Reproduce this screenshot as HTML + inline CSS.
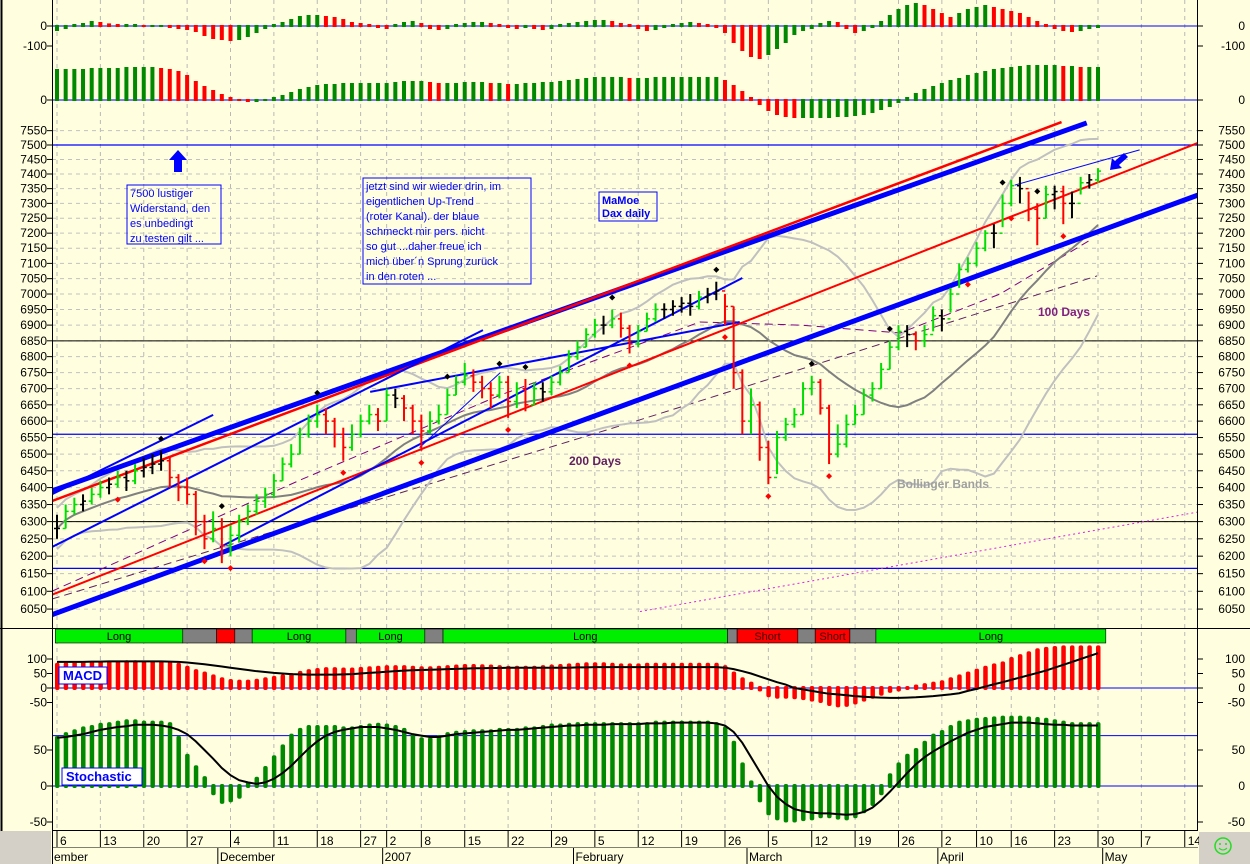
<!DOCTYPE html>
<html><head><meta charset="utf-8"><style>
html,body{margin:0;padding:0;background:#ffffe0;}
svg{display:block;font-family:"Liberation Sans",Arial,sans-serif;}
</style></head><body>
<svg id="chart" width="1250" height="864" viewBox="0 0 1250 864" xmlns="http://www.w3.org/2000/svg">
<rect x="0" y="0" width="1250" height="864" fill="#ffffe0"/>
<g id="grid"></g>
<g id="panelA"></g>
<g id="panelB"></g>
<defs><clipPath id="pc"><rect x="52" y="112" width="1146" height="516"/></clipPath></defs>
<g id="price" clip-path="url(#pc)"></g>
<g id="signal"></g>
<g id="macd"></g>
<g id="stoch"></g>
<g id="axes"></g>
<g id="notes">
  <rect x="127" y="185" width="94" height="59" fill="none" stroke="#0000ff"/>
  <text x="130" y="197" font-size="11" fill="#0000ff"><tspan x="130">7500 lustiger</tspan><tspan x="130" dy="15">Widerstand, den</tspan><tspan x="130" dy="15">es unbedingt</tspan><tspan x="130" dy="15">zu testen gilt ...</tspan></text>
  <rect x="363" y="178" width="168" height="106" fill="none" stroke="#0000ff"/>
  <text x="366" y="190" font-size="11" fill="#0000ff"><tspan x="366">jetzt sind wir wieder drin, im</tspan><tspan x="366" dy="15">eigentlichen Up-Trend</tspan><tspan x="366" dy="15">(roter Kanal). der blaue</tspan><tspan x="366" dy="15">schmeckt mir pers. nicht</tspan><tspan x="366" dy="15">so gut ...daher freue ich</tspan><tspan x="366" dy="15">mich über´n Sprung zurück</tspan><tspan x="366" dy="15">in den roten ...</tspan></text>
  <rect x="599" y="192" width="58" height="29" fill="none" stroke="#0000ff"/>
  <text x="602" y="204" font-size="11" font-weight="bold" fill="#0000ff"><tspan x="602">MaMoe</tspan><tspan x="602" dy="13">Dax daily</tspan></text>
  <polygon points="178,150 187,160 182,160 182,172 174,172 174,160 169,160" fill="#0000ff"/>
  <polygon points="1110,170 1112,158 1115,161 1124,153 1128,157 1119,165 1122,168" fill="#0000ff"/>
  <text x="569" y="465" font-size="12" font-weight="bold" fill="#602060">200 Days</text>
  <text x="1038" y="316" font-size="12" font-weight="bold" fill="#802080">100 Days</text>
  <text x="897" y="488" font-size="12" font-weight="bold" fill="#a0a0a0">Bollinger Bands</text>
  <rect x="59" y="667" width="48" height="17" fill="#fff" stroke="#0000ff"/>
  <text x="63" y="680" font-size="13" font-weight="bold" fill="#0000ff">MACD</text>
  <rect x="62" y="768" width="80" height="17" fill="#fff" stroke="#0000ff"/>
  <text x="66" y="781" font-size="13" font-weight="bold" fill="#0000ff">Stochastic</text>
  <rect x="1199" y="832" width="51" height="32" fill="#d4d0c8"/>
  <circle cx="1223" cy="846" r="8" fill="none" stroke="#22dd22" stroke-width="1.5"/>
  <circle cx="1220" cy="844" r="1" fill="#22dd22"/>
  <circle cx="1226" cy="844" r="1" fill="#22dd22"/>
  <path d="M1219 848 Q1223 852 1227 848" fill="none" stroke="#22dd22"/>
  <rect x="0" y="831" width="51" height="33" fill="#d4d0c8"/>
</g>
</svg>
<script>
const closes=[6280,6330,6350,6360,6380,6400,6410,6430,6420,6450,6460,6470,6480,6430,6400,6380,6300,6250,6280,6230,6260,6300,6330,6360,6380,6420,6470,6500,6560,6600,6620,6600,6560,6520,6560,6600,6620,6600,6680,6670,6640,6600,6570,6600,6620,6680,6720,6740,6720,6700,6680,6720,6660,6700,6650,6700,6690,6720,6750,6800,6830,6870,6900,6900,6920,6890,6840,6880,6920,6950,6950,6960,6970,6960,6990,7000,7010,6960,6750,6600,6650,6520,6430,6550,6590,6620,6700,6720,6640,6500,6530,6590,6620,6680,6700,6760,6830,6880,6870,6850,6870,6930,6920,7000,7080,7100,7150,7200,7200,7300,7360,7350,7280,7250,7330,7340,7300,7300,7370,7380,7410];
const highs=[6320,6350,6370,6380,6400,6420,6430,6450,6450,6470,6490,6500,6510,6490,6440,6430,6390,6320,6330,6310,6290,6320,6350,6380,6400,6440,6490,6530,6580,6620,6650,6640,6610,6580,6590,6620,6650,6640,6700,6700,6680,6650,6620,6630,6650,6700,6740,6780,6760,6740,6720,6740,6740,6720,6730,6720,6720,6740,6770,6820,6850,6890,6920,6930,6950,6940,6900,6900,6940,6970,6970,6980,6990,7000,7010,7020,7040,7000,6960,6760,6700,6660,6540,6570,6610,6640,6720,6740,6730,6650,6590,6620,6650,6700,6720,6780,6850,6900,6900,6880,6900,6960,6950,7020,7100,7120,7170,7210,7230,7330,7380,7390,7340,7300,7360,7360,7360,7340,7390,7400,7420];
const lows=[6250,6280,6320,6330,6350,6370,6380,6400,6390,6410,6430,6440,6450,6400,6360,6350,6260,6220,6240,6180,6200,6240,6290,6320,6340,6370,6420,6460,6500,6550,6580,6560,6520,6480,6510,6550,6590,6570,6600,6640,6600,6560,6510,6560,6590,6620,6680,6710,6690,6670,6640,6670,6610,6640,6630,6650,6660,6680,6710,6750,6790,6830,6860,6870,6890,6860,6810,6830,6880,6910,6920,6930,6940,6930,6950,6970,6980,6900,6700,6560,6560,6480,6410,6440,6540,6580,6620,6680,6620,6470,6490,6520,6590,6620,6660,6700,6760,6820,6830,6820,6830,6880,6880,6940,7020,7070,7090,7140,7150,7220,7290,7300,7240,7160,7250,7280,7230,7250,7330,7350,7370];
const oscA=[-20,-10,5,10,20,15,8,5,5,5,0,0,0,-5,-10,-15,-25,-45,-60,-65,-70,-65,-50,-30,-10,5,15,30,45,50,50,45,40,30,15,10,5,-5,-10,5,15,20,10,-10,-15,-10,5,10,15,15,10,5,-5,-10,-5,-10,-15,-10,5,10,15,20,25,25,20,10,5,-10,-20,-15,-5,5,10,15,10,5,-5,-30,-80,-120,-150,-160,-140,-110,-80,-40,-20,-10,10,20,15,-10,-30,-20,-5,20,50,80,100,110,100,80,60,40,60,80,90,100,90,80,70,60,40,20,5,-10,-20,-25,-20,-10,-5];
const oscB=[150,150,150,150,155,155,155,155,160,160,160,160,155,150,140,120,90,65,45,25,10,0,-5,-5,0,10,20,35,50,60,70,75,75,80,80,80,80,80,80,85,90,90,90,85,80,80,80,85,85,85,80,80,75,75,80,80,85,85,90,95,100,105,110,110,110,110,105,105,105,110,110,110,110,110,110,110,110,95,70,40,10,-20,-50,-70,-80,-85,-85,-85,-85,-85,-80,-80,-75,-70,-60,-45,-30,-10,10,30,50,65,80,95,105,120,130,140,150,155,160,165,170,170,170,170,165,165,160,160,160];
const macdHist=[80,82,84,85,86,87,88,88,89,89,88,88,87,84,80,70,58,50,40,30,24,22,22,25,30,35,40,45,52,58,62,65,65,64,64,66,68,70,72,72,72,70,68,68,70,72,74,76,76,75,74,72,70,70,70,70,72,74,76,78,80,82,82,82,80,78,78,78,80,80,80,80,80,80,80,80,80,72,50,30,15,-5,-25,-30,-30,-32,-35,-40,-45,-55,-60,-58,-50,-40,-30,-20,-10,-5,0,5,10,15,20,30,40,50,60,70,78,85,100,110,120,130,135,138,140,140,140,140,140];
const macdSig=[90,90,90,90,91,91,92,92,92,92,92,92,92,91,90,88,85,82,78,74,70,66,62,58,55,52,50,48,47,46,46,46,46,47,48,50,52,54,56,58,60,61,62,63,64,65,66,67,68,68,69,69,70,70,70,70,70,70,70,70,71,71,72,72,72,72,72,72,72,72,72,72,72,72,72,72,72,70,65,58,50,40,30,20,12,0,-5,-10,-15,-20,-22,-25,-28,-30,-32,-33,-34,-34,-33,-32,-30,-28,-25,-22,-18,-10,-3,5,13,20,28,36,44,52,60,70,80,90,100,110,120];
const stochHist=[67,72,76,80,82,85,86,88,90,90,88,88,88,86,67,42,26,11,-10,-22,-20,-15,3,10,25,40,55,70,78,82,82,82,82,80,80,82,84,85,84,82,78,70,65,65,68,72,74,75,76,76,76,78,78,78,80,80,82,84,84,85,86,86,86,86,86,86,86,86,86,88,88,88,88,88,88,88,86,80,60,30,5,-20,-38,-45,-48,-48,-46,-45,-42,-42,-44,-45,-42,-35,-25,-10,15,30,42,50,60,70,75,82,88,90,92,93,94,95,95,95,94,93,92,90,88,86,86,86,86];
const stochSig=[67,68,70,72,75,78,80,82,83,85,85,85,84,82,78,72,62,50,38,25,15,8,5,3,5,10,18,28,40,52,62,70,75,78,80,82,82,82,80,78,75,72,70,68,68,70,72,73,74,75,76,77,78,78,79,80,81,82,83,84,84,85,85,85,86,86,86,86,87,87,87,88,88,88,88,88,87,84,75,60,40,20,0,-15,-25,-32,-35,-37,-38,-38,-39,-40,-39,-36,-30,-20,-8,5,18,30,40,48,55,62,68,74,78,82,84,86,88,88,88,87,86,85,85,84,84,84,84];
const dayTickIdx=[0,5,10,15,20,25,30,35,38,42,47,52,57,62,67,72,77,82,87,92,97,102,106,110,115,120,125,130];
const dayTickLabels=["6","13","20","27","4","11","18","27","2","8","15","22","29","5","12","19","26","5","12","19","26","2","10","16","23","30","7","14"];
const monthIdx=[19,38,60,80,102,121];
const monthLabels=["December","2007","February","March","April","May"];
const signalEdges=[-0.2,14.5,18.4,20.5,22.5,33.3,34.5,42.4,44.5,77.3,78.4,85.4,87.4,91.4,94.4,120.9];
const signalStates=["Long","","S","","Long","","Long","","Long","","Short","","Short","","Long"];
const priceTicks=[6050,6100,6150,6200,6250,6300,6350,6400,6450,6500,6550,6600,6650,6700,6750,6800,6850,6900,6950,7000,7050,7100,7150,7200,7250,7300,7350,7400,7450,7500,7550];
const hLinesBlue=[7500,6560,6165];
const hLinesBlack=[6850,6300];
const trendIdx1=[-0.6,-0.6,-0.6,-0.6,-0.6,-0.6,18.8,36.1,110.4,41.8];
const trendP1=[6034,6390,6360,6090,6380,6226,6226,6690,7362,6520];
const trendIdx2=[131.5,118.7,115.8,131.5,18,49.1,79,78.7,124.8,51.1];
const trendP2=[7328,7577,7580,7507,6619,6884,7052,6910,7483,6750];
const trendColor=["#0000ff","#0000ff","#ff0000","#ff0000","#0000ff","#0000ff","#0000ff","#0000ff","#0000ff","#0000ff"];
const trendWidth=[5,5,2.5,2,2,2,2,2,1,1];
const ma100Idx=[-0.6,28,51.1,74.1,85.6,97.2,108.7,119.1];
const ma100P=[6100,6422,6680,6910,6900,6875,7000,7177];
const ma200Idx=[-0.6,67.2,119.9];
const ma200P=[6078,6604,7059];
const dotIdx=[67.2,131.5];
const dotP=[6043,6328];
const topMarkIdx=[12,19,30,45,51,54,64,76,87,96,109,113];
const lowMarkIdx=[7,17,20,33,42,52,66,77,82,89,105,110,116];

const NS="http://www.w3.org/2000/svg";
const X=i=>57+i*8.675;
const Y=p=>145+2160*Math.log(7500/p);
const yA=v=>26-v*0.2, yB=v=>100-v*0.2, yM=v=>688-v*0.29, yS=v=>786-v*0.72;
function mk(parent,tag,attrs,name,inter){const e=document.createElementNS(NS,tag);for(const k in attrs)e.setAttribute(k,attrs[k]);


parent.appendChild(e);return e;}
const G=id=>document.getElementById(id);
const grid=G('grid');
// vertical dashed grid
dayTickIdx.forEach((d,k)=>{const x=X(d);if(x>1197)return;
 mk(grid,'line',{x1:x,x2:x,y1:0,y2:830,stroke:'#b8b8b8','stroke-dasharray':'4,4'},'v-grid-'+dayTickLabels[k],false);});
priceTicks.forEach(p=>{mk(grid,'line',{x1:52,x2:1198,y1:Y(p),y2:Y(p),stroke:'#c0c0c0','stroke-dasharray':'4,4'},'h-grid-'+p,false);});
// panel A & B
const pA=G('panelA'),pB=G('panelB');
mk(pA,'line',{x1:52,x2:1198,y1:yA(0),y2:yA(0),stroke:'#0000ff'},'zero-line-a',false);
mk(pB,'line',{x1:52,x2:1198,y1:yB(0),y2:yB(0),stroke:'#0000ff'},'zero-line-b',false);
oscA.forEach((v,i)=>{const up=i==0||v>=oscA[i-1];const y0=yA(0),y1=yA(v);
 mk(pA,'rect',{x:X(i)-2,y:Math.min(y0,y1)-1,width:4,height:Math.abs(y1-y0)+2,fill:up?'#008800':'#ff0000'},'osc-a-bar',false);});
oscB.forEach((v,i)=>{const up=i==0||v>=oscB[i-1];const y0=yB(0),y1=yB(v);
 mk(pB,'rect',{x:X(i)-2,y:Math.min(y0,y1)-1,width:4,height:Math.abs(y1-y0)+2,fill:up?'#008800':'#ff0000'},'osc-b-bar',false);});
// price
const pr=G('price');
hLinesBlue.forEach(p=>mk(pr,'line',{x1:52,x2:1198,y1:Y(p),y2:Y(p),stroke:'#0000ff','stroke-width':1.2},'level-'+p,false));
hLinesBlack.forEach(p=>mk(pr,'line',{x1:52,x2:1198,y1:Y(p),y2:Y(p),stroke:'#000'},'level-'+p,false));
function poly(idx,pr_,attrs,name){mk(pr,'polyline',Object.assign({points:idx.map((d,k)=>X(d)+','+Y(pr_[k])).join(' '),fill:'none'},attrs),name,false);}
poly(ma100Idx,ma100P,{stroke:'#800080','stroke-dasharray':'8,5'},'ma-100-days');
poly(ma200Idx,ma200P,{stroke:'#602060','stroke-dasharray':'8,5'},'ma-200-days');
poly(dotIdx,dotP,{stroke:'#e020e0','stroke-dasharray':'2,3'},'dotted-trend');
// bollinger
const ma=[],up=[],lo=[];
closes.forEach((c,i)=>{const w=closes.slice(Math.max(0,i-19),i+1);const m=w.reduce((a,b)=>a+b,0)/w.length;
 const sd=Math.sqrt(w.reduce((a,b)=>a+(b-m)*(b-m),0)/w.length);ma.push(m);up.push(m+2*Math.max(sd,30));lo.push(m-2*Math.max(sd,30));});
const ci=closes.map((c,i)=>i);
poly(ci,up,{stroke:'#c0c0c0','stroke-width':2},'bollinger-upper');
poly(ci,lo,{stroke:'#c0c0c0','stroke-width':2},'bollinger-lower');
poly(ci,ma,{stroke:'#808080','stroke-width':2},'moving-average-20');
trendIdx1.forEach((a,k)=>mk(pr,'line',{x1:X(a),y1:Y(trendP1[k]),x2:X(trendIdx2[k]),y2:Y(trendP2[k]),stroke:trendColor[k],'stroke-width':trendWidth[k]},'trend-line-'+k,false));
closes.forEach((c,i)=>{const o=i?closes[i-1]:c;const d=c-o;const col=Math.abs(d)<12?'#000':(d>0?'#00dd00':'#ff0000');const x=X(i);
 mk(pr,'line',{x1:x,x2:x,y1:Y(highs[i]),y2:Y(lows[i]),stroke:col,'stroke-width':2},'price-bar',false);
 mk(pr,'line',{x1:x-3,x2:x,y1:Y(o),y2:Y(o),stroke:col,'stroke-width':1.5},'price-open-tick',false);
 mk(pr,'line',{x1:x,x2:x+3,y1:Y(c),y2:Y(c),stroke:col,'stroke-width':1.5},'price-close-tick',false);});
topMarkIdx.forEach(i=>{const x=X(i),y=Y(highs[i])-12;mk(pr,'polygon',{points:`${x},${y-3} ${x+3},${y} ${x},${y+3} ${x-3},${y}`,fill:'#000'},'swing-high-marker',false);});
lowMarkIdx.forEach(i=>{const x=X(i),y=Y(lows[i])+12;mk(pr,'polygon',{points:`${x},${y-3} ${x+3},${y} ${x},${y+3} ${x-3},${y}`,fill:'#ff0000'},'swing-low-marker',false);});
// signal strip
const sg=G('signal');
mk(sg,'line',{x1:0,x2:1250,y1:628.5,y2:628.5,stroke:'#000'},'panel-separator',false);
signalStates.forEach((s,k)=>{const x1=X(signalEdges[k]),x2=X(signalEdges[k+1]);const fill=s=='Long'?'#00ee00':(s==''?'#808080':'#ff0000');
 mk(sg,'rect',{x:x1,y:629,width:x2-x1,height:14,fill:fill,stroke:'#000','stroke-width':0.6},'signal-segment',false);
 if(s=='Long'||s=='Short'){const t=mk(sg,'text',{x:(x1+x2)/2,y:640,'font-size':11,'text-anchor':'middle',fill:s=='Short'?'#400000':'#000'},'signal-label',false);t.textContent=s;}});
// macd
const mc=G('macd');
mk(mc,'line',{x1:52,x2:1198,y1:yM(0),y2:yM(0),stroke:'#0000ff'},'macd-zero-line',false);
macdHist.forEach((v,i)=>{const y0=yM(0),y1=yM(v);mk(mc,'rect',{x:X(i)-2,y:Math.min(y0,y1)-2,width:4.5,height:Math.abs(y1-y0)+4,rx:2,fill:'#ff0000'},'macd-bar',false);});
mk(mc,'polyline',{points:macdSig.map((v,i)=>X(i)+','+yM(v)).join(' '),fill:'none',stroke:'#000','stroke-width':2},'macd-signal-line',false);
// stoch
const st=G('stoch');
mk(st,'line',{x1:52,x2:1198,y1:yS(0),y2:yS(0),stroke:'#0000ff'},'stoch-zero-line',false);
mk(st,'line',{x1:52,x2:1198,y1:yS(70),y2:yS(70),stroke:'#0000ff'},'stoch-70-line',false);
stochHist.forEach((v,i)=>{const y0=yS(0),y1=yS(v);mk(st,'rect',{x:X(i)-2,y:Math.min(y0,y1)-2,width:4.5,height:Math.abs(y1-y0)+4,rx:2,fill:'#008800'},'stoch-bar',false);});
mk(st,'polyline',{points:stochSig.map((v,i)=>X(i)+','+yS(v)).join(' '),fill:'none',stroke:'#000','stroke-width':2},'stoch-signal-line',false);
// axes
const ax=G('axes');
mk(ax,'line',{x1:1.5,x2:1.5,y1:0,y2:864,stroke:'#000','stroke-width':2},'outer-border',false);
mk(ax,'line',{x1:52.5,x2:52.5,y1:0,y2:864,stroke:'#000'},'left-axis',false);
mk(ax,'line',{x1:1197.5,x2:1197.5,y1:0,y2:830,stroke:'#000'},'right-axis',false);
function lab(x,y,t,anchor,name){const e=mk(ax,'text',{x:x,y:y,'font-size':12,'text-anchor':anchor,fill:'#000'},name,false);e.textContent=t;}
function both(y,t,n){lab(47,y+4,t,'end',n+'-left');lab(1245,y+4,t,'end',n+'-right');
 mk(ax,'line',{x1:47,x2:52,y1:y,y2:y,stroke:'#000'},n+'-tick-l',false);mk(ax,'line',{x1:1198,x2:1203,y1:y,y2:y,stroke:'#000'},n+'-tick-r',false);}
priceTicks.forEach(p=>both(Y(p),String(p),'price-tick-'+p));
[0,-100].forEach(v=>both(yA(v),String(v),'osc-a-tick'));
both(yB(0),'0','osc-b-tick');
[100,50,0,-50].forEach(v=>both(yM(v),String(v),'macd-tick'));
[50,0,-50].forEach(v=>both(yS(v),String(v),'stoch-tick'));
mk(ax,'line',{x1:52,x2:1198,y1:830.5,y2:830.5,stroke:'#000'},'time-axis-line',false);
mk(ax,'line',{x1:52,x2:1198,y1:847.5,y2:847.5,stroke:'#000','stroke-width':0.5},'time-axis-mid',false);
dayTickIdx.forEach((d,k)=>{const x=X(d);if(x>1197)return;
 mk(ax,'line',{x1:x,x2:x,y1:831,y2:847,stroke:'#000'},'day-sep',false);
 lab(x+3,845,dayTickLabels[k],'start','day-label-'+dayTickLabels[k]);});
lab(54,861,'ember','start','month-label-november');
monthIdx.forEach((d,k)=>{const x=X(d)-4;mk(ax,'line',{x1:x,x2:x,y1:848,y2:864,stroke:'#000'},'month-sep',false);
 lab(x+2,861,monthLabels[k],'start','month-label-'+monthLabels[k].toLowerCase());});
</script>
</body></html>
